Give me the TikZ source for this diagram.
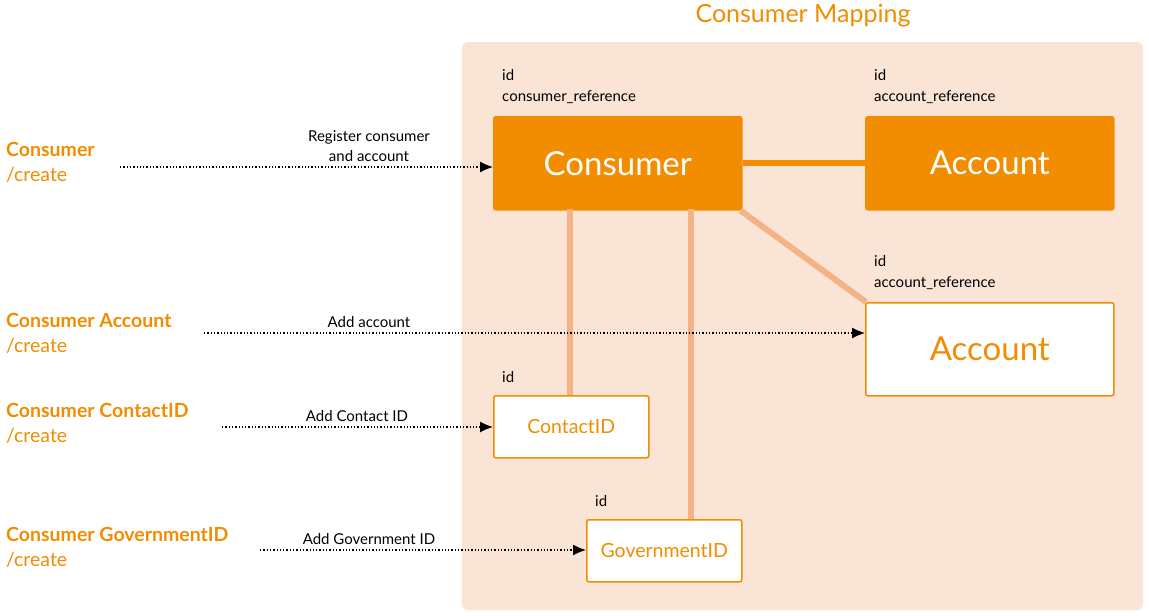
\documentclass[tikz,border=0pt]{standalone}
\usepackage{fontspec}
\setmainfont{Lato}
\usetikzlibrary{arrows.meta}
\definecolor{org}{HTML}{F28C00}
\definecolor{peach}{HTML}{F9E4D6}
\definecolor{lite}{HTML}{F4B387}
\tikzset{
  big/.style={fill=org,draw=org,line width=1.5pt,rounded corners=2pt,text=white,font=\fontsize{33}{35}\selectfont,minimum width=248pt,minimum height=93pt,inner sep=0pt},
  wbig/.style={fill=white,draw=org,line width=1.5pt,rounded corners=2pt,text=org,font=\fontsize{33}{35}\selectfont,minimum width=248pt,minimum height=93pt,inner sep=0pt},
  small/.style={fill=white,draw=org,line width=1.5pt,rounded corners=2pt,text=org,font=\fontsize{19.5}{21}\selectfont,minimum width=155pt,minimum height=62pt,inner sep=0pt},
  lbl/.style={font=\fontsize{15}{21}\selectfont,align=left,anchor=south west,inner sep=0pt},
  src/.style={font=\fontsize{19.5}{25}\selectfont,text=org,align=left,anchor=west,inner sep=0pt},
  dot/.style={dotted,line width=1.3pt,-{Latex[length=13pt,width=11pt]}},
  alb/.style={font=\fontsize{15}{20}\selectfont,align=center,above=2pt},
  link/.style={lite,line width=6pt}
}
\begin{document}
\begin{tikzpicture}[x=1pt,y=-1pt]
\useasboundingbox (0,0) rectangle (1149,616);
\fill[peach,rounded corners=6pt] (462,42) rectangle (1143,610);
\node[text=org,font=\fontsize{25}{28}\selectfont] (title) at (803,16) {Consumer Mapping};
\node[big,anchor=north west] (cons) at (493,116) {Consumer};
\node[big,anchor=north west] (acc1) at (865,116) {Account};
\node[wbig,anchor=north west] (acc2) at (865,302) {Account};
\node[small,anchor=north west] (cid) at (493,395) {ContactID};
\node[small,anchor=north west] (gid) at (586,519) {GovernmentID};
\draw[org,line width=6pt] (cons.east) -- (acc1.west);
\draw[link] (cons.south east) ++(-2,0) -- ([xshift=1pt]acc2.north west);
\draw[link] (570,209) -- (cid.north -| 570,0);
\draw[link] (691,209) -- (gid.north -| 691,0);
\node[lbl] (l1) at (502,104) {id\\consumer\_reference};
\node[lbl] (l2) at (874,104) {id\\account\_reference};
\node[lbl] (l3) at (874,290) {id\\account\_reference};
\node[lbl] (l4) at (502,383) {id};
\node[lbl] (l5) at (595,507) {id};
\node[src] (s1) at (6,162) {\textbf{Consumer}\\/create};
\node[src] (s2) at (6,333) {\textbf{Consumer Account}\\/create};
\node[src] (s3) at (6,423) {\textbf{Consumer ContactID}\\/create};
\node[src] (s4) at (6,547) {\textbf{Consumer GovernmentID}\\/create};
\coordinate (a1) at (120,167);
\coordinate (a2) at (204,333);
\coordinate (a3) at (222,427);
\coordinate (a4) at (260,550);
\node[alb] (t1) at (369,167) {Register consumer\\and account};
\node[alb] (t2) at (369,333) {Add account};
\node[alb] (t3) at (357,427) {Add Contact ID};
\node[alb] (t4) at (369,550) {Add Government ID};
\draw[dot] (a1) -- (cons.west |- a1);
\draw[dot] (a2) -- (acc2.west |- a2);
\draw[dot] (a3) -- (cid.west |- a3);
\draw[dot] (a4) -- (gid.west |- a4);
\end{tikzpicture}
\end{document}
